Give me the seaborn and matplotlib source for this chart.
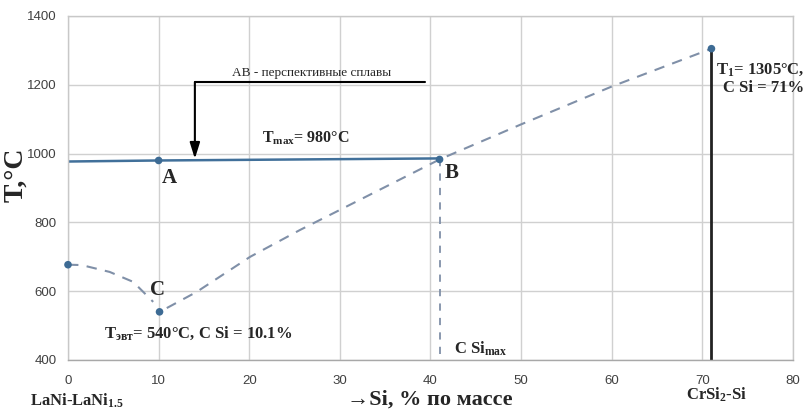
import numpy as np
import pandas as pd
import matplotlib
matplotlib.use("Agg")
import matplotlib.pyplot as plt
import seaborn as sns

# ---- data ----
liq_left_x = [0, 1.5, 4.6, 7.2, 8.3, 9.4]
liq_left_y = [677, 676, 656, 627, 598, 569]
liq_right_x = [10.9, 14.2, 20.1, 25.6, 29.3, 41, 50, 60, 71]
liq_right_y = [551, 598, 700, 778, 827, 983, 1085, 1195, 1305]
tmax_x = [0, 10, 41]
tmax_y = [977, 980, 986]
pts_x = [0, 10.1, 10, 41, 71]
pts_y = [677, 540, 980, 983, 1305]
csimax_x = [41, 41]
csimax_y = [983, 400]
t1_x = [71, 71]
t1_y = [400, 1305]
x_ticks = [0, 10, 20, 30, 40, 50, 60, 70, 80]
y_ticks = [400, 600, 800, 1000, 1200, 1400]

sns.set_theme(style="whitegrid")
plt.rcParams["mathtext.fontset"] = "custom"
plt.rcParams["mathtext.rm"] = "Liberation Serif"
plt.rcParams["mathtext.bf"] = "Liberation Serif:bold"
plt.rcParams["mathtext.it"] = "Liberation Serif:italic"

fig = plt.figure(figsize=(8.04, 4.12), dpi=100)
ax = fig.add_axes([68/804, 1-360/412, (793-68)/804, (360-16)/412])

dash_col = "#8090a8"
line_col = "#41709a"
dot_col = "#3d6b94"

kw = dict(ax=ax, sort=False, estimator=None)
sns.lineplot(x=liq_left_x, y=liq_left_y, color=dash_col, lw=1.5,
             linestyle=(0, (5, 4)), **kw)
sns.lineplot(x=liq_right_x, y=liq_right_y, color=dash_col, lw=1.5,
             linestyle=(0, (5, 4)), **kw)
sns.lineplot(x=csimax_x, y=csimax_y, color=dash_col, lw=1.3,
             linestyle=(0, (4, 4)), **kw)
sns.lineplot(x=tmax_x, y=tmax_y, color=line_col, lw=1.8, **kw)
sns.lineplot(x=t1_x, y=t1_y, color="#222222", lw=2.0, **kw)
sns.scatterplot(x=pts_x, y=pts_y, ax=ax, color=dot_col, s=30, zorder=5,
                edgecolor="none", clip_on=False)

ax.set_xlim(0, 80)
ax.set_ylim(400, 1400)
ax.set_xticks(x_ticks)
ax.set_yticks(y_ticks)
ax.grid(True, color="#d0d0d0", lw=1.0)
for s in ax.spines.values():
    s.set_color("#c8c8c8")
    s.set_linewidth(1.0)
ax.spines["bottom"].set_color("#a8a8a8")
ax.tick_params(axis="both", length=0, labelsize=9.5, labelcolor="#404040")
ax.tick_params(axis="x", pad=11)
ax.tick_params(axis="y", pad=8)
for lab in ax.get_xticklabels() + ax.get_yticklabels():
    lab.set_fontfamily("Liberation Sans")
ax.set_xlabel("")
ax.set_ylabel("")

serif = "Liberation Serif"
# point labels
ax.text(10.4, 930, "A", fontsize=15, fontweight="bold", family=serif, ha="left", va="center")
ax.text(41.6, 943, "B", fontsize=15, fontweight="bold", family=serif, ha="left", va="center")
ax.text(9.9, 603, "C", fontsize=15, fontweight="bold", family=serif, ha="center", va="center")
ax.text(21.4, 1045, r"$\mathbf{T_{max}}$= 980°C", fontsize=11.5, fontweight="bold",
        family=serif, ha="left", va="center")
ax.text(4.0, 478, r"$\mathbf{T_{эвт}}$= 540°C, C Si = 10.1%", fontsize=12,
        fontweight="bold", family=serif, ha="left", va="center")
ax.text(42.6, 432, r"C Si$_{\mathbf{max}}$", fontsize=12, fontweight="bold",
        family=serif, ha="left", va="center")
ax.text(71.5, 1243, r"$\mathbf{T_{1}}$= 1305°C,", fontsize=12, fontweight="bold",
        family=serif, ha="left", va="center")
ax.text(72.3, 1190, "C Si = 71%", fontsize=12, fontweight="bold",
        family=serif, ha="left", va="center")

# annotation AB
ax.text(26.9, 1234, "AB - перспективные сплавы", fontsize=9.5, family=serif,
        ha="center", va="center")
ax.plot([14.0, 39.4], [1208, 1208], color="black", lw=1.5)
ax.annotate("", xy=(14.0, 985), xytext=(14.0, 1208),
            arrowprops=dict(arrowstyle="-|>,head_length=0.8,head_width=0.25",
                            color="black", lw=1.5, shrinkA=0, shrinkB=0))

# axis labels
fig.text(16/804, 1-175/412, "T,°C", rotation=90, fontsize=20, fontweight="bold",
         family=serif, ha="center", va="center")
fig.text(430/804, 1-400/412, "→Si, % по массе", fontsize=16, fontweight="bold",
         family=[serif, "DejaVu Sans"], ha="center", va="center")
fig.text(30/804, 1-401/412, r"LaNi-LaNi$_{\mathbf{1.5}}$", fontsize=12,
         fontweight="bold", family=serif, ha="left", va="center")
fig.text(716/804, 1-395/412, r"CrSi$_{\mathbf{2}}$-Si", fontsize=12,
         fontweight="bold", family=serif, ha="center", va="center")

fig.savefig("out.png", dpi=100)
